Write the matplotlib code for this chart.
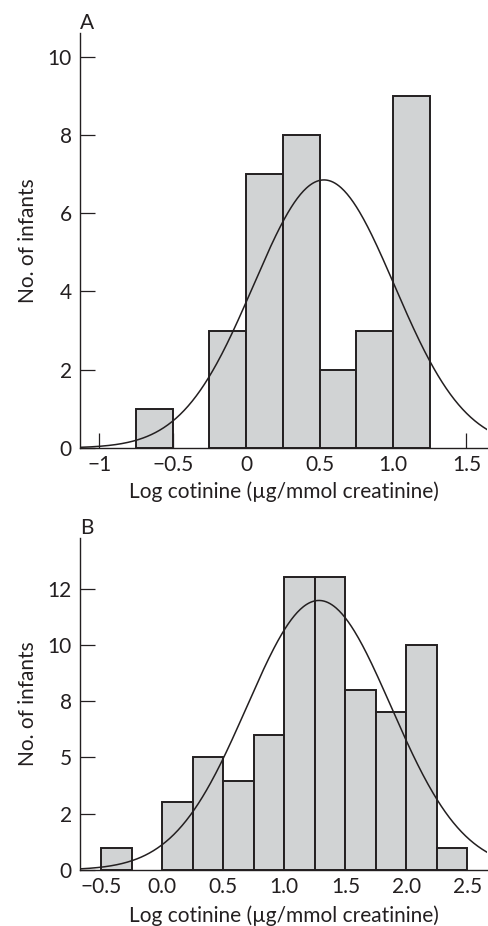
import numpy as np
import matplotlib
matplotlib.use("Agg")
import matplotlib.pyplot as plt

# ---------------- data ----------------
# panel A: bins of width 0.25 (left edges) and counts
A_EDGES = [-0.75, -0.25, 0.0, 0.25, 0.5, 0.75, 1.0]
A_COUNTS = [1, 3, 7, 8, 2, 3, 9]
A_XTICKS = [-1, -0.5, 0, 0.5, 1.0, 1.5]
A_XLABELS = ["\u22121", "\u22120.5", "0", "0.5", "1.0", "1.5"]
A_YTICKS = [0, 2, 4, 6, 8, 10]
A_YLABELS = ["0", "2", "4", "6", "8", "10"]
A_PEAK, A_MEAN, A_SD = 6.85, 0.53, 0.48

# panel B: the y tick labels are unevenly numbered in the original,
# heights are given in the drawn (evenly spaced) scale
B_EDGES = [-0.5, 0.0, 0.25, 0.5, 0.75, 1.0, 1.25, 1.5, 1.75, 2.0, 2.25]
B_COUNTS = [0.77, 2.4, 4.0, 3.18, 4.79, 10.4, 10.4, 6.41, 5.6, 8.0, 0.77]
B_XTICKS = [-0.5, 0.0, 0.5, 1.0, 1.5, 2.0, 2.5]
B_XLABELS = ["\u22120.5", "0.0", "0.5", "1.0", "1.5", "2.0", "2.5"]
B_YTICKS = [0, 2, 4, 6, 8, 10]
B_YLABELS = ["0", "2", "5", "8", "10", "12"]
B_PEAK, B_MEAN, B_SD = 9.58, 1.284, 0.59

BIN_W = 0.25
XLABEL = "Log cotinine (\u00b5g/mmol creatinine)"
YLABEL = "No. of infants"

INK = "#231f20"
FILL = "#d1d3d4"

plt.rcParams["font.family"] = ["Lato", "DejaVu Sans"]
plt.rcParams["font.size"] = 15


def panel(ax, edges, counts, peak, mean, sd, xlim, ylim,
          xticks, xlabels, yticks, ylabels, letter, show_xticks, xpad):
    ax.set_axisbelow(True)
    ax.bar(edges, counts, width=BIN_W, align="edge",
           color=FILL, edgecolor=INK, linewidth=1.4, zorder=1)
    xs = np.linspace(xlim[0], xlim[1], 400)
    ax.plot(xs, peak * np.exp(-(xs - mean) ** 2 / (2 * sd ** 2)),
            color=INK, linewidth=1.1, zorder=3)
    ax.set_xlim(*xlim)
    ax.set_ylim(*ylim)
    ax.set_xticks(xticks, xlabels)
    ax.set_yticks(yticks, ylabels)
    for s in ("top", "right"):
        ax.spines[s].set_visible(False)
    for s in ("left", "bottom"):
        ax.spines[s].set_color(INK)
        ax.spines[s].set_linewidth(1.0)
    ax.tick_params(axis="y", direction="in", length=11, width=0.9,
                   color=INK, labelcolor=INK, pad=6)
    ax.tick_params(axis="x", direction="in", length=11 if show_xticks else 0,
                   width=0.9, color=INK, labelcolor=INK, pad=5)
    ax.set_xlabel(XLABEL, color=INK, labelpad=xpad)
    ax.set_ylabel(YLABEL, color=INK, labelpad=7)
    ax.text(0.0, 1.0, letter, transform=ax.transAxes, color=INK,
            fontsize=15, ha="left", va="bottom")


fig = plt.figure(figsize=(4.88, 9.26), dpi=100)
ax_a = fig.add_axes([0.164, 0.5162, 0.834, 0.448])
ax_b = fig.add_axes([0.164, 0.0605, 0.834, 0.3585])

panel(ax_a, A_EDGES, A_COUNTS, A_PEAK, A_MEAN, A_SD, (-1.13, 1.64), (0, 10.6),
      A_XTICKS, A_XLABELS, A_YTICKS, A_YLABELS, "A", True, 5)
panel(ax_b, B_EDGES, B_COUNTS, B_PEAK, B_MEAN, B_SD, (-0.672, 2.66), (0, 11.8),
      B_XTICKS, B_XLABELS, B_YTICKS, B_YLABELS, "B", False, 6)

fig.savefig("out.png", dpi=100)
